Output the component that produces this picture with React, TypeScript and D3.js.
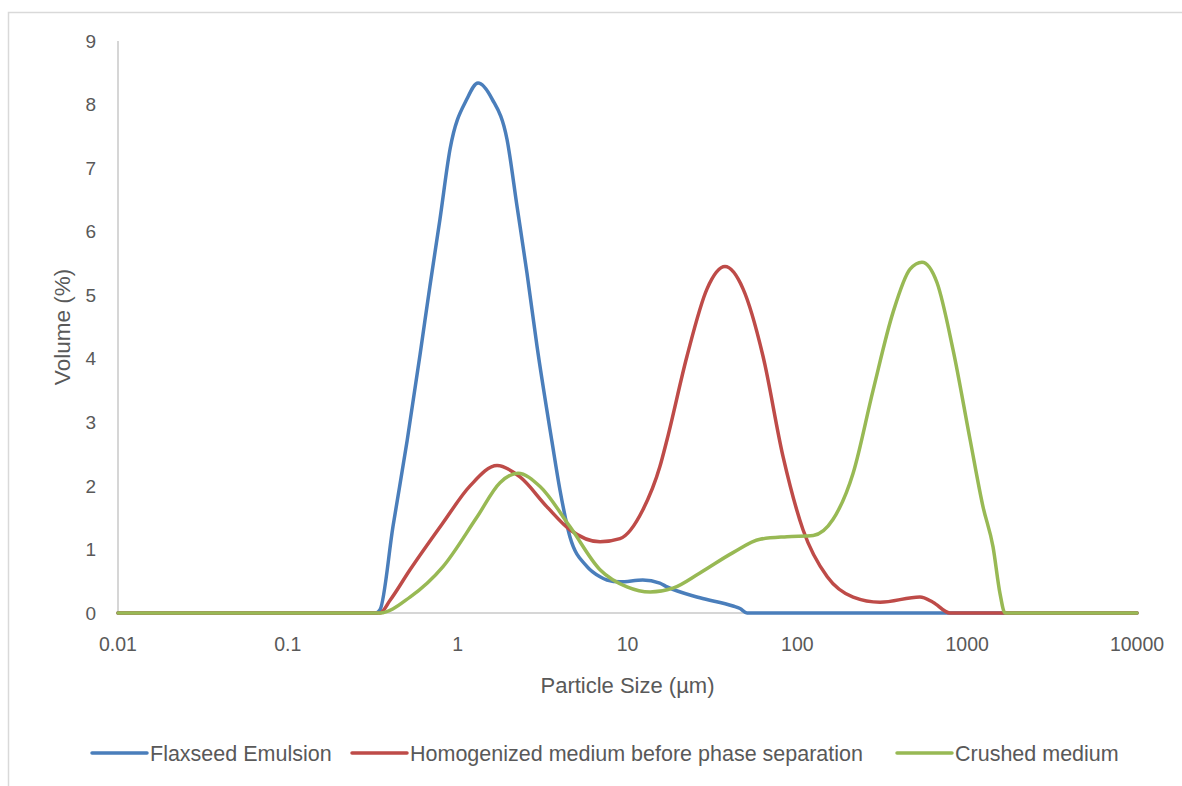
import { useMemo } from "react";
import * as d3 from "d3";

const WIDTH = 1182;
const HEIGHT = 786;
const PLOT = { left: 118, right: 1137, top: 41, bottom: 613 };
const FONT = "'Liberation Sans', Arial, sans-serif";
const TEXT = "#595959";

const X_TICKS = [0.01, 0.1, 1, 10, 100, 1000, 10000];
const Y_TICKS = [0, 1, 2, 3, 4, 5, 6, 7, 8, 9];

// particle size (µm) -> volume (%)
const FLAX_SIZE = [0.01, 0.2, 0.33, 0.349, 0.416, 0.504, 0.6, 0.687, 0.787, 0.902, 1.135, 1.318, 1.593, 1.953, 2.236, 2.559, 2.931, 3.59, 4.0, 4.58, 5.78, 6.89, 7.57, 9.03, 12.3, 15.5, 17.1, 26.7, 41.8, 46, 50.6, 60, 10000];
const FLAX_VOL = [0, 0, 0, 0.05, 1.36, 2.71, 4.06, 5.15, 6.2, 7.3, 8.09, 8.34, 8.09, 7.45, 6.4, 5.35, 4.2, 2.7, 1.94, 1.2, 0.73, 0.57, 0.52, 0.49, 0.52, 0.47, 0.41, 0.24, 0.11, 0.07, 0, 0, 0];

const HOMO_SIZE = [0.01, 0.2, 0.349, 0.4, 0.524, 0.82, 1.183, 1.706, 2.328, 3.357, 4.58, 6.89, 9.03, 12.3, 15.5, 17.1, 22.4, 29.4, 37.5, 47.9, 62.8, 82.4, 108, 150, 213, 307, 527, 629, 792, 900, 10000];
const HOMO_VOL = [0, 0, 0, 0.2, 0.68, 1.42, 2.0, 2.32, 2.14, 1.67, 1.31, 1.12, 1.17, 1.62, 2.3, 2.73, 4.04, 5.1, 5.45, 5.1, 4.04, 2.46, 1.31, 0.57, 0.25, 0.17, 0.25, 0.17, 0, 0, 0];

const CRUSH_SIZE = [0.01, 0.2, 0.349, 0.524, 0.82, 1.3, 1.775, 2.266, 3.055, 4.58, 6.89, 9.93, 13.6, 18.5, 26.7, 41.8, 60.3, 86.9, 124, 162, 213, 279, 366, 461, 542, 664, 826, 1040, 1240, 1420, 1560, 1670, 1900, 10000];
const CRUSH_VOL = [0, 0, 0, 0.25, 0.73, 1.51, 2.05, 2.2, 1.99, 1.36, 0.68, 0.41, 0.33, 0.39, 0.63, 0.95, 1.16, 1.2, 1.22, 1.47, 2.2, 3.5, 4.73, 5.41, 5.52, 5.2, 4.14, 2.73, 1.67, 1.04, 0.31, 0, 0, 0];

const SERIES = [
  { key: "flax", label: "Flaxseed Emulsion", color: "#4A7EBB", size: FLAX_SIZE, vol: FLAX_VOL, legendX: 92 },
  { key: "homo", label: "Homogenized medium before phase separation", color: "#BE4B48", size: HOMO_SIZE, vol: HOMO_VOL, legendX: 352 },
  { key: "crush", label: "Crushed medium", color: "#98B954", size: CRUSH_SIZE, vol: CRUSH_VOL, legendX: 897 },
];

export default function App() {
  const x = useMemo(() => d3.scaleLog().domain([0.01, 10000]).range([PLOT.left, PLOT.right]), []);
  const y = useMemo(() => d3.scaleLinear().domain([0, 9]).range([PLOT.bottom, PLOT.top]), []);

  const line = useMemo(
    () =>
      d3
        .line<[number, number]>()
        .x((d) => x(d[0]))
        .y((d) => y(d[1]))
        .curve(d3.curveMonotoneX),
    [x, y],
  );

  const paths = SERIES.map((s) => ({
    ...s,
    d: line(s.size.map((v, i) => [v, s.vol[i]] as [number, number])) || "",
  }));

  return (
    <svg width={WIDTH} height={HEIGHT} style={{ position: "absolute", left: 0, top: 0 }} fontFamily={FONT}>
      <rect x={0} y={0} width={WIDTH} height={HEIGHT} fill="#fff" />
      <rect x={8.5} y={12.5} width={1300} height={900} fill="none" stroke="#D9D9D9" strokeWidth={1.5} />

      {Y_TICKS.map((t) => (
        <text key={`y-${t}`} x={96} y={y(t)} dy="0.35em" textAnchor="end" fontSize={19} fill={TEXT}>
          {t}
        </text>
      ))}

      {X_TICKS.map((t) => (
        <text key={`x-${t}`} x={x(t)} y={651} textAnchor="middle" fontSize={19.5} fill={TEXT}>
          {t}
        </text>
      ))}

      <line x1={PLOT.left} x2={PLOT.left} y1={PLOT.top} y2={PLOT.bottom} stroke="#C8C8C8" strokeWidth={1.5} />
      <line x1={PLOT.left} x2={PLOT.right} y1={PLOT.bottom} y2={PLOT.bottom} stroke="#C8C8C8" strokeWidth={1.5} />

      <text x={(PLOT.left + PLOT.right) / 2} y={693} textAnchor="middle" fontSize={22} fill={TEXT}>
        Particle Size (µm)
      </text>
      <text
        transform={`translate(70 ${(PLOT.top + PLOT.bottom) / 2}) rotate(-90)`}
        textAnchor="middle"
        fontSize={22.5}
        fill={TEXT}
      >
        Volume (%)
      </text>

      {paths.map((p) => (
        <path key={p.key} d={p.d} fill="none" stroke={p.color} strokeWidth={3.5} strokeLinejoin="round" strokeLinecap="round" />
      ))}

      {SERIES.map((s) => (
        <g key={`lg-${s.key}`}>
          <line x1={s.legendX} x2={s.legendX + 55} y1={753} y2={753} stroke={s.color} strokeWidth={3.5} strokeLinecap="round" />
          <text x={s.legendX + 58} y={753} dy="0.35em" fontSize={21.5} fill={TEXT}>
            {s.label}
          </text>
        </g>
      ))}
    </svg>
  );
}
